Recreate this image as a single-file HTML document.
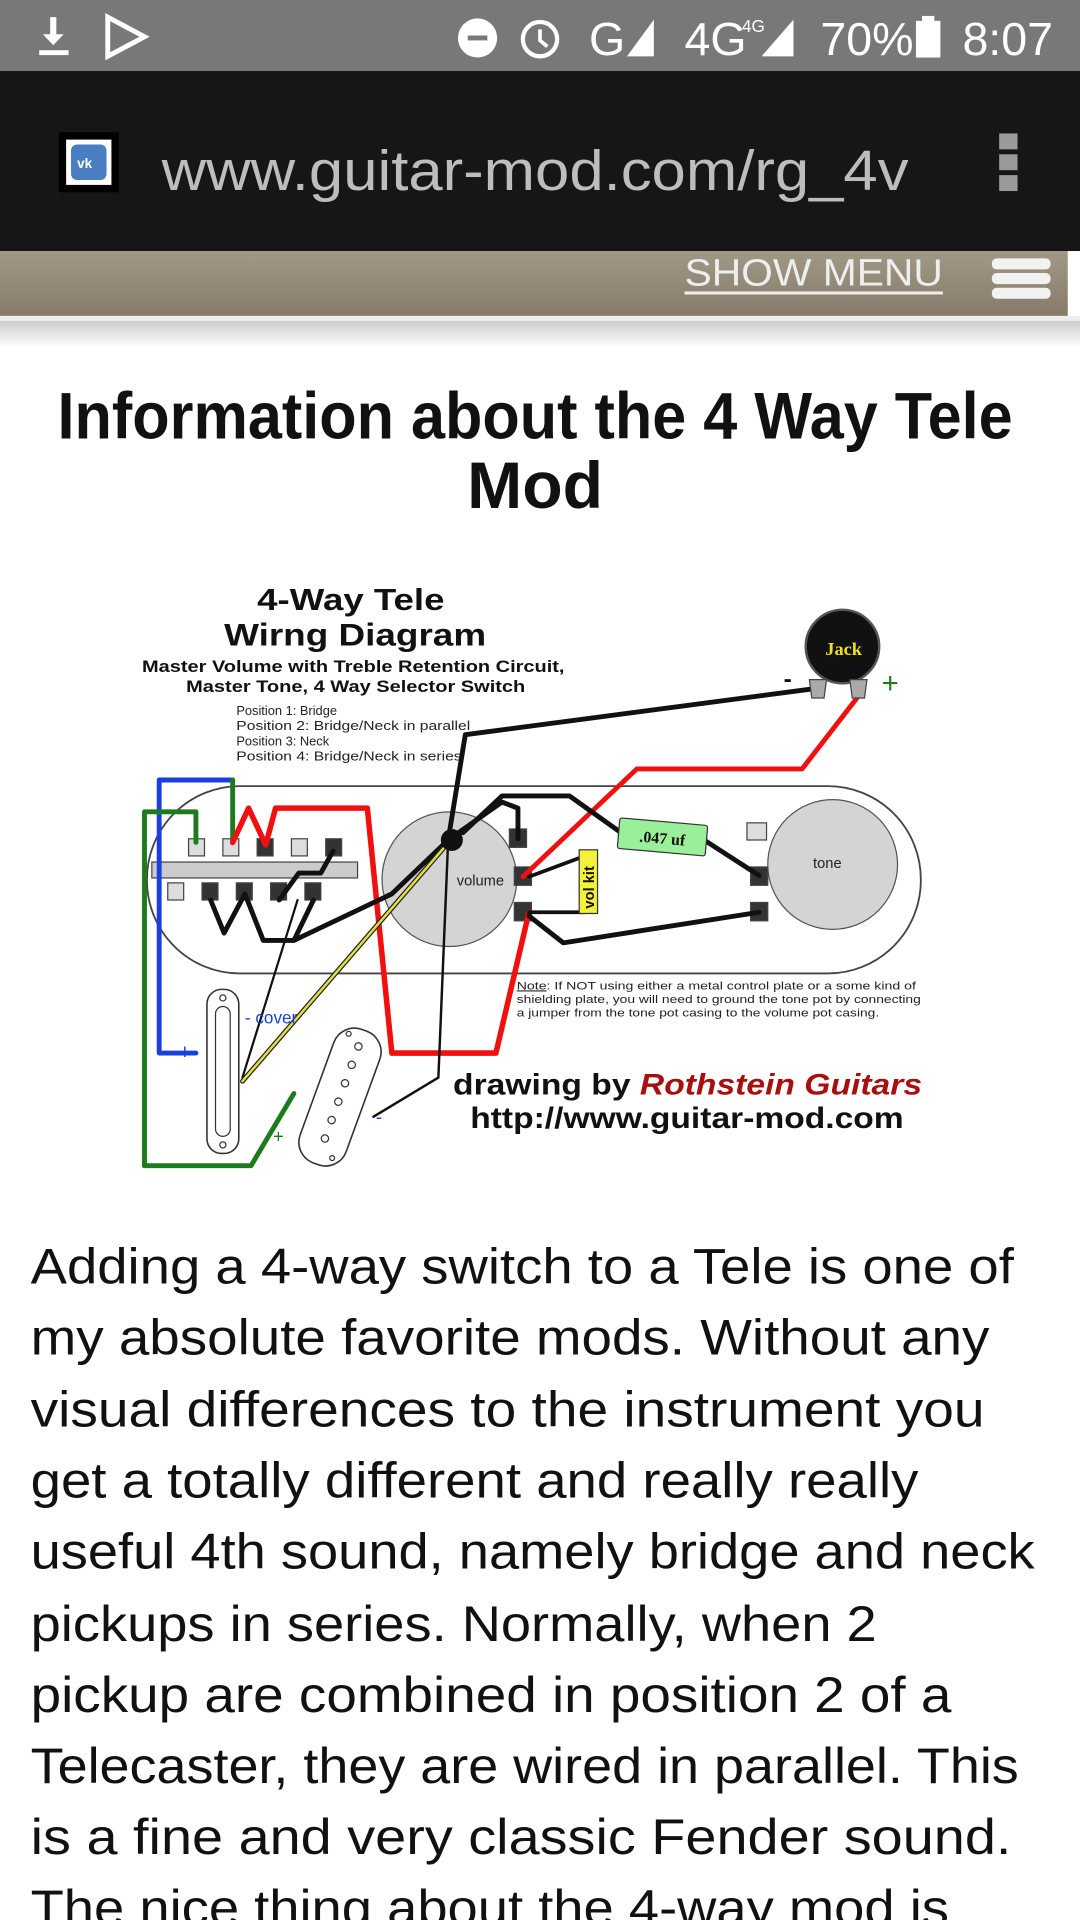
<!DOCTYPE html>
<html><head><meta charset="utf-8"><style>
html,body{margin:0;padding:0;background:#fff;width:1080px;height:1920px;overflow:hidden}
svg{display:block}
</style></head><body>
<svg width="1080" height="1920" viewBox="0 0 882 1568" xmlns="http://www.w3.org/2000/svg" font-family="Liberation Sans, sans-serif">
<defs>
<linearGradient id="mb" x1="0" y1="0" x2="0" y2="1"><stop offset="0" stop-color="#a29886"/><stop offset="1" stop-color="#857b68"/></linearGradient>
<linearGradient id="sh" x1="0" y1="0" x2="0" y2="1"><stop offset="0" stop-color="#ccc"/><stop offset="1" stop-color="#fff"/></linearGradient>
</defs>
<rect x="0" y="0" width="882" height="58" fill="#787878"/>
<g fill="#fff">
<path d="M41 14 h5 v14 h6 l-8.5 9 l-8.5 -9 h6z"/><rect x="32" y="41" width="24" height="4"/>
<path d="M88 14 l30 16 l-30 16z" fill="none" stroke="#fff" stroke-width="4"/>
<circle cx="390" cy="31" r="16"/><rect x="382" y="29" width="16" height="4" fill="#787878"/>
<circle cx="441" cy="32" r="14" fill="none" stroke="#fff" stroke-width="3.5"/>
<path d="M441 24 v9 l6 5" fill="none" stroke="#fff" stroke-width="3"/>
<text x="481" y="45" font-size="38">G</text>
<path d="M512 46 l22 -30 v30z"/>
<text x="559" y="45" font-size="38">4G</text><text x="606" y="26" font-size="14">4G</text>
<path d="M622 46 l26 -30 v30z"/>
<text x="670" y="45" font-size="38">70%</text>
<rect x="748" y="17" width="20" height="30"/><rect x="753" y="13" width="10" height="5"/>
<text x="786" y="45" font-size="38">8:07</text>
</g>
<rect x="0" y="58" width="882" height="147" fill="#161616"/>
<rect x="48" y="108" width="49" height="49" fill="#000"/>
<rect x="54" y="114" width="37" height="37" fill="#fff"/>
<rect x="58" y="118" width="29" height="29" rx="5" fill="#4a7ec3"/>
<text x="63" y="137" font-size="11" font-weight="bold" fill="#fff">vk</text>
<text x="132" y="155" font-size="46" fill="#bdbdbd" textLength="610" lengthAdjust="spacingAndGlyphs">www.guitar-mod.com/rg_4v</text>
<rect x="816" y="109" width="15" height="13" fill="#9a9a9a"/><rect x="816" y="126" width="15" height="13" fill="#9a9a9a"/><rect x="816" y="143" width="15" height="13" fill="#9a9a9a"/>
<rect x="0" y="205" width="872" height="53" fill="url(#mb)"/>
<rect x="0" y="258" width="882" height="4" fill="#eee"/>
<rect x="0" y="262" width="882" height="22" fill="url(#sh)"/>
<text x="559" y="233" font-size="31" fill="#eeeeee" textLength="211" lengthAdjust="spacingAndGlyphs">SHOW MENU</text>
<rect x="559" y="238" width="211" height="2.5" fill="#eee"/>
<rect x="810" y="211" width="48" height="9" rx="4" fill="#f2f2f2"/><rect x="810" y="223" width="48" height="9" rx="4" fill="#f2f2f2"/><rect x="810" y="235" width="48" height="9" rx="4" fill="#f2f2f2"/>
<text x="437" y="358" font-size="54" font-weight="bold" text-anchor="middle" fill="#111" textLength="780" lengthAdjust="spacingAndGlyphs">Information about the 4 Way Tele</text>
<text x="437" y="415" font-size="54" font-weight="bold" text-anchor="middle" fill="#111">Mod</text>
<g font-weight="bold" fill="#111">
<text x="210" y="498" font-size="25" textLength="153" lengthAdjust="spacingAndGlyphs">4-Way Tele</text>
<text x="183" y="527" font-size="26" textLength="214" lengthAdjust="spacingAndGlyphs">Wirng Diagram</text>
<text x="116" y="549" font-size="13.5" textLength="345" lengthAdjust="spacingAndGlyphs">Master Volume with Treble Retention Circuit,</text>
<text x="152" y="565" font-size="13.5" textLength="277" lengthAdjust="spacingAndGlyphs">Master Tone, 4 Way Selector Switch</text>
</g>
<g font-size="10.5" fill="#222">
<text x="193" y="584">Position 1:  Bridge</text>
<text x="193" y="596" textLength="191" lengthAdjust="spacingAndGlyphs">Position 2:  Bridge/Neck in parallel</text>
<text x="193" y="609">Position 3:  Neck</text>
<text x="193" y="621" textLength="184" lengthAdjust="spacingAndGlyphs">Position 4:  Bridge/Neck in series</text>
</g>
<rect x="120" y="642" width="632" height="153" rx="76" fill="#fff" stroke="#444" stroke-width="1.5"/>
<circle cx="367" cy="718" r="55" fill="#d4d4d4" stroke="#555" stroke-width="1"/>
<circle cx="680" cy="706" r="53" fill="#d4d4d4" stroke="#555" stroke-width="1"/>
<text x="373" y="723" font-size="12" fill="#222">volume</text>
<text x="664" y="709" font-size="12" fill="#222">tone</text>
<g stroke="#444" stroke-width="1">
<rect x="416" y="677" width="14" height="15" fill="#333"/>
<rect x="420" y="708" width="14" height="15" fill="#333"/>
<rect x="420" y="737" width="14" height="15" fill="#333"/>
<rect x="610" y="672" width="16" height="14" fill="#ddd"/>
<rect x="613" y="708" width="14" height="15" fill="#333"/>
<rect x="613" y="737" width="14" height="15" fill="#333"/>
</g>
<g stroke="#444" stroke-width="1">
<rect x="154" y="685" width="13" height="14" fill="#ddd"/>
<rect x="182" y="685" width="13" height="14" fill="#ddd"/>
<rect x="210" y="685" width="13" height="14" fill="#333"/>
<rect x="238" y="685" width="13" height="14" fill="#ddd"/>
<rect x="266" y="685" width="13" height="14" fill="#333"/>
<rect x="124" y="704" width="168" height="13" fill="#ccc"/>
<rect x="137" y="721" width="13" height="14" fill="#ddd"/>
<rect x="165" y="721" width="13" height="14" fill="#333"/>
<rect x="193" y="721" width="13" height="14" fill="#333"/>
<rect x="221" y="721" width="13" height="14" fill="#333"/>
<rect x="249" y="721" width="13" height="14" fill="#333"/>
</g>
<rect x="169" y="808" width="26" height="134" rx="12" fill="#fff" stroke="#333" stroke-width="1.3"/>
<rect x="176" y="822" width="12" height="106" rx="6" fill="none" stroke="#333" stroke-width="1"/>
<circle cx="182" cy="815" r="2.5" fill="none" stroke="#333"/><circle cx="182" cy="935" r="2.5" fill="none" stroke="#333"/>
<g transform="rotate(20 278 895)">
<rect x="258" y="838" width="40" height="116" rx="18" fill="#fff" stroke="#333" stroke-width="1.3"/>
<g fill="none" stroke="#333"><circle cx="278" cy="852" r="3"/><circle cx="278" cy="868" r="3"/><circle cx="278" cy="884" r="3"/><circle cx="278" cy="900" r="3"/><circle cx="278" cy="916" r="3"/><circle cx="278" cy="932" r="3"/><circle cx="267" cy="845" r="2"/><circle cx="289" cy="945" r="2"/></g>
</g>
<g fill="none" stroke-linejoin="round" stroke-linecap="round">
<polyline points="160,860 130,860 130,637 190,637" stroke="#1a3fe0" stroke-width="4"/>
<polyline points="190,637 190,688" stroke="#1d7a1d" stroke-width="4"/>
<polyline points="118,952 118,663 160,663 160,688" stroke="#1d7a1d" stroke-width="4"/>
<polyline points="118,952 205,952 240,893" stroke="#1d7a1d" stroke-width="4"/>
<polyline points="190,688 203,660 217,690 225,660 300,660 320,860 405,860 432,745" stroke="#f01010" stroke-width="4.5"/>
<polyline points="427,716 520,628 655,628 703,566" stroke="#f01010" stroke-width="4"/>
<polyline points="668,562 380,600 366,686" stroke="#111" stroke-width="4"/>
<polyline points="366,686 358,880 305,912" stroke="#111" stroke-width="2"/>
<polyline points="172,735 183,762 200,730 215,768 240,768 256,735" stroke="#111" stroke-width="4"/>
<polyline points="228,735 244,713 262,713 272,695" stroke="#111" stroke-width="4"/>
<polyline points="243,735 198,880" stroke="#111" stroke-width="1.8"/>
<polyline points="240,768 320,730 366,686 410,655 423,660 423,685" stroke="#111" stroke-width="4"/>
<polyline points="378,680 410,650 465,650 510,682" stroke="#111" stroke-width="4"/>
<polyline points="575,686 620,715" stroke="#111" stroke-width="4"/>
<polyline points="432,716 475,700" stroke="#111" stroke-width="3"/>
<polyline points="432,745 478,745" stroke="#111" stroke-width="3"/>
<polyline points="432,748 460,770 620,745" stroke="#111" stroke-width="4"/>
<line x1="362" y1="693" x2="198" y2="883" stroke="#222" stroke-width="4"/>
<line x1="362" y1="693" x2="198" y2="883" stroke="#e4e040" stroke-width="2"/>
</g>
<circle cx="369" cy="686" r="9" fill="#111"/>
<g transform="rotate(5 541 684)"><rect x="505" y="671" width="72" height="25" rx="2" fill="#9af09a" stroke="#333"/>
<text x="541" y="689" font-size="13" font-weight="bold" font-family="Liberation Serif, serif" text-anchor="middle" fill="#111">.047 uf</text></g>
<rect x="473" y="694" width="15" height="52" fill="#f5f03a" stroke="#333"/>
<text transform="translate(485 742) rotate(-90)" font-size="12" font-weight="bold" fill="#111">vol kit</text>
<circle cx="688" cy="528" r="30" fill="#111" stroke="#555" stroke-width="2"/>
<text x="689" y="535" font-size="15" font-weight="bold" font-family="Liberation Serif, serif" fill="#f0e020" text-anchor="middle">Jack</text>
<path d="M661 555 h14 l-2 15 h-10z" fill="#aaa" stroke="#444"/>
<path d="M694 555 h14 l-2 15 h-10z" fill="#aaa" stroke="#444"/>
<text x="640" y="561" font-size="20" font-weight="bold" fill="#111">-</text>
<text x="720" y="566" font-size="24" fill="#1d7a1d">+</text>
<text x="200" y="836" font-size="14" fill="#1a3fe0">-  cover</text>
<text x="146" y="865" font-size="17" fill="#1a3fe0">+</text>
<text x="223" y="933" font-size="15" fill="#1d7a1d">+</text>
<text x="307" y="917" font-size="15" fill="#1a3fe0">-</text>
<g font-size="9" fill="#222">
<text x="422" y="808" textLength="326" lengthAdjust="spacingAndGlyphs"><tspan text-decoration="underline">Note</tspan>:  If NOT using either a metal control plate or a some kind of</text>
<text x="422" y="819" textLength="330" lengthAdjust="spacingAndGlyphs">shielding plate, you will need to ground the tone pot by connecting</text>
<text x="422" y="830" textLength="296" lengthAdjust="spacingAndGlyphs">a jumper from the tone pot casing to the volume pot casing.</text>
</g>
<text x="370" y="894" font-size="24" font-weight="bold" fill="#111" textLength="383" lengthAdjust="spacingAndGlyphs">drawing by <tspan font-style="italic" fill="#a81010">Rothstein Guitars</tspan></text>
<text x="384" y="921" font-size="24" font-weight="bold" fill="#111" textLength="354" lengthAdjust="spacingAndGlyphs">http://www.guitar-mod.com</text>
<g font-size="41" fill="#111" lengthAdjust="spacingAndGlyphs">
<text x="25" y="1048" textLength="803" lengthAdjust="spacingAndGlyphs">Adding a 4-way switch to a Tele is one of</text>
<text x="25" y="1106" textLength="783" lengthAdjust="spacingAndGlyphs">my absolute favorite mods. Without any</text>
<text x="25" y="1165" textLength="779" lengthAdjust="spacingAndGlyphs">visual differences to the instrument you</text>
<text x="25" y="1223" textLength="725" lengthAdjust="spacingAndGlyphs">get a totally different and really really</text>
<text x="25" y="1281" textLength="820" lengthAdjust="spacingAndGlyphs">useful 4th sound, namely bridge and neck</text>
<text x="25" y="1340" textLength="691" lengthAdjust="spacingAndGlyphs">pickups in series. Normally, when 2</text>
<text x="25" y="1398" textLength="752" lengthAdjust="spacingAndGlyphs">pickup are combined in position 2 of a</text>
<text x="25" y="1456" textLength="807" lengthAdjust="spacingAndGlyphs">Telecaster, they are wired in parallel. This</text>
<text x="25" y="1514" textLength="801" lengthAdjust="spacingAndGlyphs">is a fine and very classic Fender sound.</text>
<text x="25" y="1572" textLength="750" lengthAdjust="spacingAndGlyphs">The nice thing about the 4-way mod is</text>
</g>
</svg>
</body></html>
